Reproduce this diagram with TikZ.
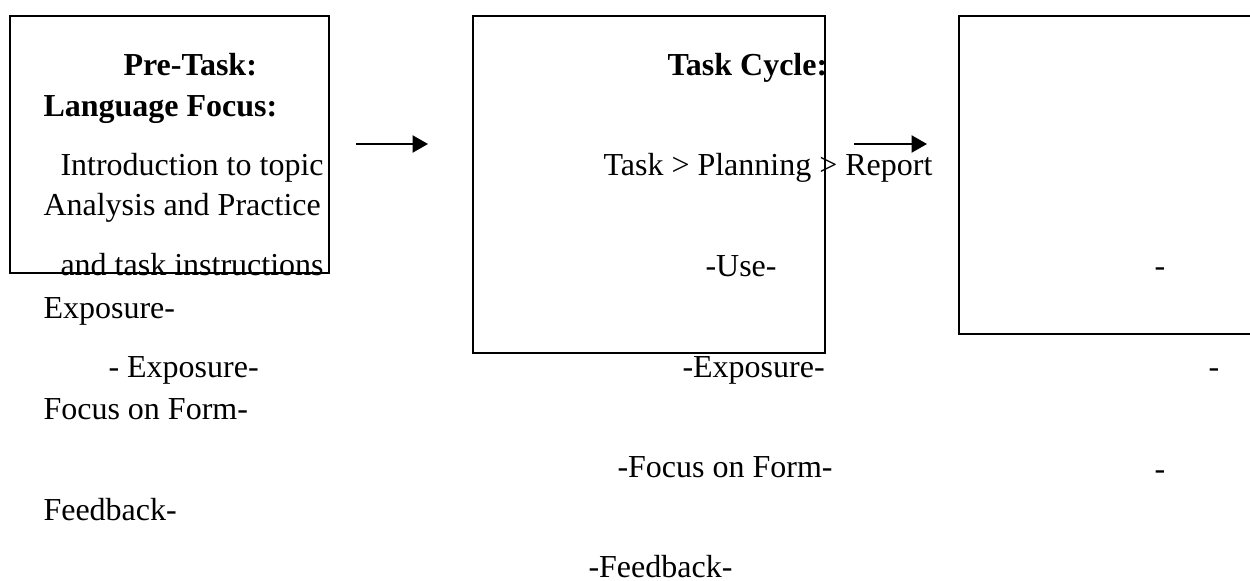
\documentclass[tikz,border=0pt]{standalone}
\usepackage{fontspec}
\setmainfont{Liberation Serif}
\usetikzlibrary{arrows.meta}

\begin{document}
\begin{tikzpicture}[x=0.375pt, y=-0.375pt,
        box/.style={draw, line width=0.6pt, anchor=north west, inner sep=0pt},
        txt/.style={anchor=base west, inner sep=0pt, font=\fontsize{12pt}{14pt}\selectfont},
        head/.style={txt, font=\fontsize{12pt}{14pt}\selectfont\bfseries},
        flow/.style={line width=0.85pt, -{Triangle[length=5.8pt, width=6.4pt]}}]
        \useasboundingbox (0,0) rectangle (1250,581);
        
        \node[box, minimum width=119.6pt, minimum height=96.4pt] (pre) at (9,15) {};
        \node[box, minimum width=132pt, minimum height=126.4pt] (cycle) at (472,15) {};
        \node[box, minimum width=113pt, minimum height=119.25pt] (post) at (958,15) {};
        
        \node[head] (pretitle) at (123,76) {Pre-Task:};
        \node[head] (lfocus) at (43,117) {Language Focus:};
        \node[txt] (intro) at (60,176) {Introduction to topic};
        \node[txt] (analysis) at (43,216) {Analysis and Practice};
        \node[txt] (instr) at (60,275) {and task instructions};
        \node[txt] (expoA) at (43,318) {Exposure-};
        \node[txt] (expoB) at (108,377) {- Exposure-};
        \node[txt] (formA) at (43,419) {Focus on Form-};
        \node[txt] (feedA) at (43,520) {Feedback-};
        
        \node[head] (cycletitle) at (667,76) {Task Cycle:};
        \node[txt] (steps) at (603,176) {Task > Planning > Report};
        \node[txt] (use) at (705,276) {-Use-};
        \node[txt] (expoC) at (682,377) {-Exposure-};
        \node[txt] (formC) at (617,477) {-Focus on Form-};
        \node[txt] (feedC) at (588,577) {-Feedback-};
        
        \node[txt] (dashA) at (1154,276) {-};
        \node[txt] (dashB) at (1208,377) {-};
        \node[txt] (dashC) at (1154,479) {-};
        
        \coordinate (fromPre) at (356,144);
        \coordinate (toCycle) at (428,144);
        \coordinate (fromCycle) at (854,144);
        \coordinate (toPost) at (927,144);
        \draw[flow] (fromPre) -- (toCycle);
        \draw[flow] (fromCycle) -- (toPost);
    \end{tikzpicture}
\end{document}
